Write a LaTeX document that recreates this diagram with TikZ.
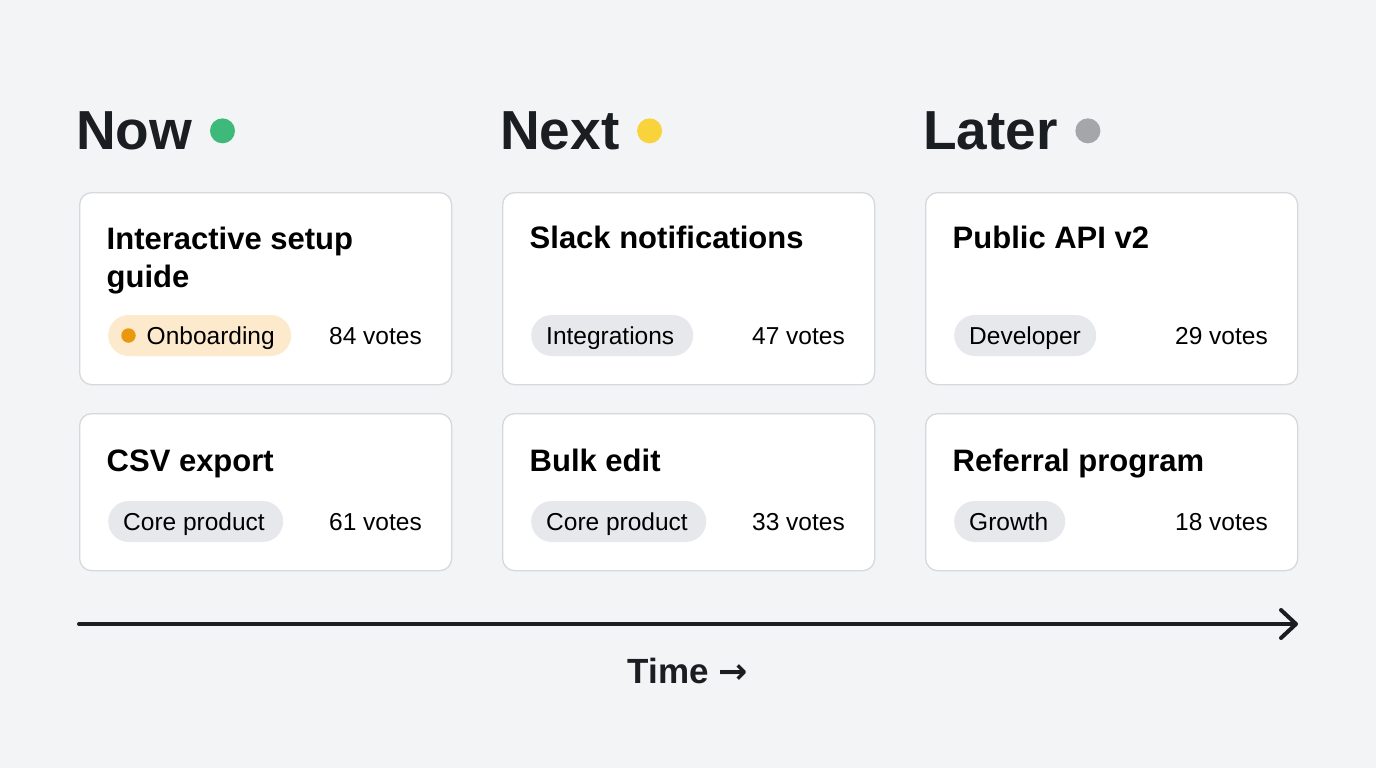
\documentclass[tikz,border=0pt]{standalone}
\usepackage{fontspec}
\setmainfont{Liberation Sans}
\newfontfamily\symfont{DejaVu Sans}
\usetikzlibrary{arrows.meta}
\definecolor{bg}{HTML}{F3F4F6}
\definecolor{ink}{HTML}{1A1D21}
\definecolor{cardline}{HTML}{D5D8DC}
\definecolor{dotgreen}{HTML}{3DBA7A}
\definecolor{dotyellow}{HTML}{F9D33C}
\definecolor{dotgray}{HTML}{A4A6A9}
\definecolor{pillgray}{HTML}{E6E8EB}
\definecolor{pillorange}{HTML}{FDEACD}
\definecolor{dotorange}{HTML}{E8990F}
\tikzset{
  head/.style={inner sep=0pt, font=\fontsize{55}{60}\selectfont\bfseries, text=ink},
  hdot/.style={circle, inner sep=0pt, minimum size=25pt},
  card/.style={draw=cardline, line width=1.3pt, fill=white, rounded corners=12pt, inner sep=0pt},
  cardtitle/.style={inner sep=0pt, font=\fontsize{31}{38.4}\selectfont\bfseries, text=black, align=left},
  pill/.style={fill=pillgray, rounded corners=20.5pt, minimum height=41pt, inner sep=0pt},
  pilltext/.style={inner sep=0pt, font=\fontsize{24.5}{28}\selectfont, text=black},
  votes/.style={inner sep=0pt, font=\fontsize{24.5}{28}\selectfont, text=black},
  odot/.style={circle, fill=dotorange, inner sep=0pt, minimum size=14.5pt},
  axis/.style={line width=4pt, draw=ink, line cap=round, -{Straight Barb[length=15pt, width=28pt, line width=4pt, round]}},
  timelbl/.style={inner sep=0pt, font=\fontsize{35}{40}\selectfont\bfseries, text=ink}
}
\begin{document}
\begin{tikzpicture}[x=1pt, y=-1pt]
\path[fill=bg] (0,0) rectangle (1376,768);
\useasboundingbox (0,0) rectangle (1376,768);

% headings
\node[head, anchor=base west] (hnow) at (76,149.5) {Now};
\node[hdot, fill=dotgreen] (dnow) at ([xshift=30pt]hnow.east) {};
\node[head, anchor=base west] (hnext) at (500,149.5) {Next};
\node[hdot, fill=dotyellow] (dnext) at ([xshift=30pt]hnext.east) {};
\node[head, anchor=base west] (hlater) at (923,149.5) {Later};
\node[hdot, fill=dotgray] (dlater) at ([xshift=30pt]hlater.east) {};

% cards row 1
\node[card, anchor=north west, minimum width=372pt, minimum height=192pt] (c11) at (79,192) {};
\node[card, anchor=north west, minimum width=372pt, minimum height=192pt] (c21) at (502,192) {};
\node[card, anchor=north west, minimum width=372pt, minimum height=192pt] (c31) at (925,192) {};
% cards row 2
\node[card, anchor=north west, minimum width=372pt, minimum height=157pt] (c12) at (79,413) {};
\node[card, anchor=north west, minimum width=372pt, minimum height=157pt] (c22) at (502,413) {};
\node[card, anchor=north west, minimum width=372pt, minimum height=157pt] (c32) at (925,413) {};

% titles
\node[cardtitle, anchor=north west] (t11) at (106.5,226.5) {Interactive setup\\guide};
\node[cardtitle, anchor=base west] (t21) at (529.5,248.5) {Slack notifications};
\node[cardtitle, anchor=base west] (t31) at (952.5,248.5) {Public API v2};
\node[cardtitle, anchor=base west] (t12) at (106.5,471) {CSV export};
\node[cardtitle, anchor=base west] (t22) at (529.5,471) {Bulk edit};
\node[cardtitle, anchor=base west] (t32) at (952.5,471) {Referral program};

% pills row 1
\node[pill, fill=pillorange, anchor=west, minimum width=183pt] (p11) at (108,335.5) {};
\node[odot] (od) at (128.5,335.5) {};
\node[pilltext, anchor=base west] (pt11) at (146.5,344) {Onboarding};
\node[pill, anchor=west, minimum width=162pt] (p21) at (531,335.5) {};
\node[pilltext, anchor=base west] (pt21) at (546,344) {Integrations};
\node[pill, anchor=west, minimum width=142pt] (p31) at (954,335.5) {};
\node[pilltext, anchor=base west] (pt31) at (969,344) {Developer};
% pills row 2
\node[pill, anchor=west, minimum width=175pt] (p12) at (108,521.5) {};
\node[pilltext, anchor=base west] (pt12) at (123,530) {Core product};
\node[pill, anchor=west, minimum width=175pt] (p22) at (531,521.5) {};
\node[pilltext, anchor=base west] (pt22) at (546,530) {Core product};
\node[pill, anchor=west, minimum width=111pt] (p32) at (954,521.5) {};
\node[pilltext, anchor=base west] (pt32) at (969,530) {Growth};

% votes
\node[votes, anchor=base east] (v11) at (422,344) {84 votes};
\node[votes, anchor=base east] (v21) at (845,344) {47 votes};
\node[votes, anchor=base east] (v31) at (1268,344) {29 votes};
\node[votes, anchor=base east] (v12) at (422,530) {61 votes};
\node[votes, anchor=base east] (v22) at (845,530) {33 votes};
\node[votes, anchor=base east] (v32) at (1268,530) {18 votes};

% time axis
\coordinate (tl) at (79,624);
\coordinate (tr) at (1298,624);
\draw[axis] (tl) -- (tr);
\node[timelbl, anchor=base] (time) at (688,683) {Time {\symfont\bfseries →}};
\end{tikzpicture}
\end{document}
